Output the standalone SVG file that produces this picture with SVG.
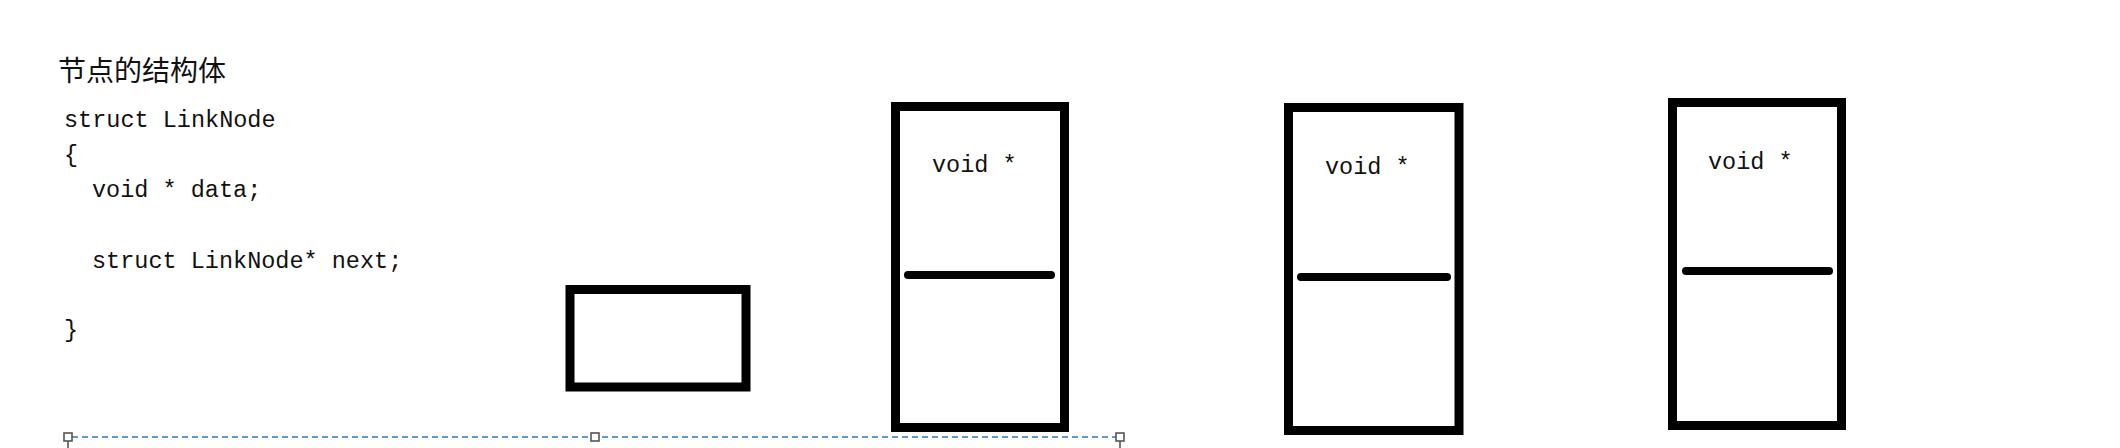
<svg xmlns="http://www.w3.org/2000/svg" width="2120" height="448" viewBox="0 0 2120 448">
<style>
.code{font-family:"Liberation Mono","DejaVu Sans Mono",monospace;font-size:23.5px;fill:#111;}
.title{font-family:"Noto Sans CJK SC","Noto Sans",sans-serif;font-size:28px;fill:#111;}
.box{fill:#fff;stroke:#000;stroke-width:9;}
.div{stroke:#000;stroke-width:8;stroke-linecap:round;}
.dash{stroke:#5b9bd5;stroke-width:2;stroke-dasharray:6 4;fill:none;}
.handle{fill:#fff;stroke:#555;stroke-width:1.6;}
.stem{stroke:#555;stroke-width:1.6;}
</style>
<rect width="2120" height="448" fill="#fff"/>
<g id="title"><text class="title" x="58" y="81">节点的结构体</text></g>
<g id="code">
<text class="code" x="64" y="127">struct LinkNode</text>
<text class="code" x="64" y="162">{</text>
<text class="code" x="92" y="197">void * data;</text>
<text class="code" x="92" y="268">struct LinkNode* next;</text>
<text class="code" x="64" y="337">}</text>
</g>
<g id="box-small"><rect class="box" x="570" y="289.5" width="176" height="97.5"/></g>
<g id="node1">
<rect class="box" x="895.5" y="106.5" width="169" height="321"/>
<line class="div" x1="908" y1="275" x2="1051" y2="275"/>
<text class="code" x="932" y="172">void *</text>
</g>
<g id="node2">
<rect class="box" x="1288.5" y="107.5" width="170.5" height="323"/>
<line class="div" x1="1301" y1="277" x2="1447" y2="277"/>
<text class="code" x="1325" y="174">void *</text>
</g>
<g id="node3">
<rect class="box" x="1672.5" y="102.5" width="169" height="323"/>
<line class="div" x1="1686" y1="271" x2="1829" y2="271"/>
<text class="code" x="1708" y="169">void *</text>
</g>
<g id="connectors">
<line class="dash" x1="72" y1="437" x2="1116" y2="437"/>
<line class="stem" x1="68" y1="441" x2="68" y2="448"/>
<line class="stem" x1="1120" y1="441" x2="1120" y2="448"/>
<rect class="handle" x="64" y="433" width="8" height="8"/>
<rect class="handle" x="591" y="433" width="8" height="8"/>
<rect class="handle" x="1116" y="433" width="8" height="8"/>
</g>
</svg>
